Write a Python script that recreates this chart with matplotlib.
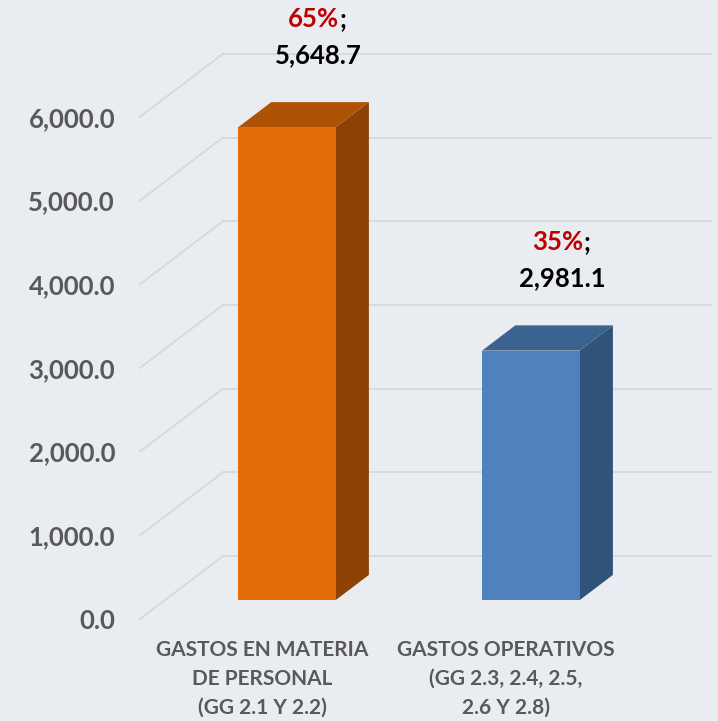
import matplotlib
matplotlib.use("Agg")
import matplotlib.pyplot as plt
from matplotlib.patches import Polygon

# ---- data ----
categories = ["GASTOS EN MATERIA\nDE PERSONAL\n(GG 2.1 Y 2.2)",
              "GASTOS OPERATIVOS\n(GG 2.3, 2.4, 2.5,\n2.6 Y 2.8)"]
values = [5648.7, 2981.1]
percents = ["65%", "35%"]
value_labels = ["5,648.7", "2,981.1"]
yticks = [0, 1000, 2000, 3000, 4000, 5000, 6000]
ytick_labels = ["0.0", "1,000.0", "2,000.0", "3,000.0", "4,000.0", "5,000.0", "6,000.0"]

# ---- style ----
plt.rcParams['font.family'] = ['Lato', 'DejaVu Sans']
BG = "#E9ECF1"
GRID = "#D6D8DC"
front_cols = ["#E46C0A", "#4F81BD"]
top_cols = ["#AE5205", "#3C6290"]
side_cols = ["#8E4104", "#315279"]

W, H = 718, 721
fig = plt.figure(figsize=(W / 100, H / 100), dpi=100, facecolor=BG)

# geometry in pixels (layout only)
ax_left_px, ax_bottom_px = 140, 721 - 619
px_per_cat = 244.0
px_per_unit = 83.7 / 1000.0
ax_w_px = W - ax_left_px
ax_h_px = H - ax_bottom_px
ax = fig.add_axes([ax_left_px / W, ax_bottom_px / H, ax_w_px / W, ax_h_px / H])
ax.set_facecolor("none")
ax.set_xlim(-0.5, -0.5 + ax_w_px / px_per_cat)
ax.set_ylim(0, ax_h_px / px_per_unit)

# depth vector (full depth of the 3D box) in data units
Dx = 83 / px_per_cat
Dy = 63 / px_per_unit
d_front, d_back = 0.3, 0.7
half_w = 0.2

# gridlines: diagonal on the floor/side wall, horizontal on the back wall
for v in yticks:
    ax.plot([-0.5, -0.5 + Dx], [v, v + Dy], color=GRID, lw=1.3, clip_on=False, zorder=1)
    ax.plot([-0.5 + Dx, 1.5 + Dx], [v + Dy, v + Dy], color=GRID, lw=1.3, clip_on=False, zorder=1)

# bars
for i, v in enumerate(values):
    fx, fy = i + d_front * Dx, d_front * Dy
    bx, by = i + d_back * Dx, d_back * Dy
    x0f, x1f = fx - half_w, fx + half_w
    x0b, x1b = bx - half_w, bx + half_w
    front = Polygon([(x0f, fy), (x1f, fy), (x1f, fy + v), (x0f, fy + v)],
                    closed=True, fc=front_cols[i], ec="none", zorder=3)
    top = Polygon([(x0f, fy + v), (x1f, fy + v), (x1b, by + v), (x0b, by + v)],
                  closed=True, fc=top_cols[i], ec="none", zorder=3)
    side = Polygon([(x1f, fy), (x1b, by), (x1b, by + v), (x1f, fy + v)],
                   closed=True, fc=side_cols[i], ec="none", zorder=3)
    for p in (side, top, front):
        ax.add_patch(p)

    # data labels
    lx = i + 0.5 * Dx
    ly = v + d_back * Dy
    ax.annotate(value_labels[i], xy=(lx, ly), xytext=(15 * 0.72, 47 * 0.72),
                textcoords="offset points", ha="center", va="center",
                fontsize=18.5, fontweight="bold", color="black", zorder=5)
    t_pct = ax.annotate(percents[i], xy=(lx, ly), xytext=(10 * 0.72, 83 * 0.72),
                        textcoords="offset points", ha="center", va="center",
                        fontsize=18.5, fontweight="bold", color="#C00000", zorder=5)
    ax.annotate(";", xy=(1, 0), xycoords=t_pct, ha="left", va="bottom",
                fontsize=18.5, fontweight="bold", color="black", zorder=5)

# axes / ticks
for s in ax.spines.values():
    s.set_visible(False)
ax.set_yticks(yticks)
ax.set_yticklabels(ytick_labels)
ax.set_xticks(range(len(categories)))
ax.set_xticklabels(categories, linespacing=1.55)
ax.tick_params(axis="y", length=0, pad=18, labelsize=18.5, labelcolor="#595959")
ax.tick_params(axis="x", length=0, pad=15, labelsize=15, labelcolor="#595959")
for lab in ax.get_yticklabels() + ax.get_xticklabels():
    lab.set_fontweight("bold")

fig.savefig("out.png", dpi=100, facecolor=BG)
